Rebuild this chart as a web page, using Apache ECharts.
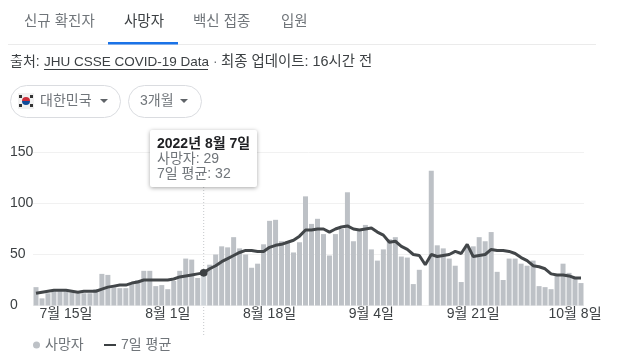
<!DOCTYPE html>
<html lang="ko">
<head>
<meta charset="utf-8" />
<title>사망자</title>
<style>
	html,body{margin:0;padding:0;background:#fff;}
	#chart{width:629px;height:357px;}
</style>
</head>
<body>
<div id="chart"></div>
<script src="https://cdn.jsdelivr.net/npm/echarts@6/dist/echarts.min.js"></script>
<script>
// 7월 10일 ~ 10월 9일, 하루 단위
var startMonth = 7, startDay = 10;
var monthDays = {7: 31, 8: 31, 9: 30, 10: 31};
var deaths = [18,7,12,14,14,14,13,12,12,12,16,31,30,18,17,17,21,25,34,34,19,20,16,24,34,46,45,27,29,40,
	50,58,57,67,56,50,37,41,60,83,84,63,63,52,62,107,80,85,70,49,70,75,111,63,73,79,55,44,55,65,
	67,48,47,21,35,0,132,59,56,46,39,23,57,58,67,63,72,33,25,46,46,41,39,44,19,18,16,30,41,32,27,22];
var average = [12,13,14,15,15,15,14,13,14,14,14,16,18,19,20,20,22,23,25,25,25,25,25,26,28,29,30,31,32,36,
	39,43,46,49,52,54,54,53,53,57,59,60,62,64,68,74,74,75,75,72,75,77,78,75,74,75,76,72,69,62,
	63,58,55,50,49,40,50,48,49,50,53,51,60,48,49,50,55,54,54,53,51,47,44,39,38,36,31,30,30,29,27,27];
var yTicks = [0, 50, 100, 150];
var tabs = ['신규 확진자', '사망자', '백신 접종', '입원'];
var hoverIndex = 28;

var days = [];
(function(){
	var m = startMonth, d = startDay;
	for (var i = 0; i < deaths.length; i++) {
		days.push(m + '월 ' + d + '일');
		d++;
		if (d > monthDays[m]) { d = 1; m++; }
	}
})();

var ink = '#3c4043', soft = '#70757a', bar = '#bdc1c6', line = '#dadce0';
var font = '"Liberation Sans", "Noto Sans CJK KR", sans-serif';

function label(x, y, text, color, size){
	return {type: 'text', x: x, y: y, silent: true, style: {
		text: text, fill: color, font: (size || 14) + 'px ' + font, textVerticalAlign: 'middle'
	}};
}
function chip(x, w){
	return {type: 'rect', shape: {x: x + 0.5, y: 85.5, width: w, height: 32, r: 16}, style: {fill: '#fff', stroke: line, lineWidth: 1}};
}
function caret(x){
	return {type: 'polygon', shape: {points: [[x - 4, 99], [x + 4, 99], [x, 103]]}, style: {fill: '#5f6368'}};
}

var myChart = echarts.init(document.getElementById('chart'));
var header = [
	label(24, 22, tabs[0], soft, 14.5),
	label(124, 22, tabs[1], ink, 14.5),
	label(193, 22, tabs[2], soft, 14.5),
	label(281, 22, tabs[3], soft, 14.5),
	{type: 'line', shape: {x1: 8, y1: 44.5, x2: 596, y2: 44.5}, style: {stroke: '#ebebeb', lineWidth: 1}},
	{type: 'rect', shape: {x: 108, y: 42, width: 70, height: 2.5}, style: {fill: '#1a73e8'}},
	label(10, 62, '출처:', ink),
	label(44, 62, 'JHU CSSE COVID-19 Data', ink, 13.5),
	{type: 'line', shape: {x1: 44, y1: 69.5, x2: 208, y2: 69.5}, style: {stroke: ink, lineWidth: 1}},
	label(213, 62, '·', soft),
	label(221, 62, '최종 업데이트: 16시간 전', ink, 14.4),
	chip(10, 110),
	chip(128, 73),
	// 태극기
	{type: 'rect', shape: {x: 18, y: 93, width: 16, height: 16}, style: {fill: '#f1f1f1'}},
	{type: 'sector', shape: {cx: 26, cy: 101, r: 4, startAngle: Math.PI, endAngle: Math.PI * 2}, style: {fill: '#cd2e3a'}},
	{type: 'sector', shape: {cx: 26, cy: 101, r: 4, startAngle: 0, endAngle: Math.PI}, style: {fill: '#0f4c9a'}},
	{type: 'rect', shape: {x: 19, y: 95, width: 3, height: 3}, style: {fill: '#333'}},
	{type: 'rect', shape: {x: 30, y: 95, width: 3, height: 3}, style: {fill: '#333'}},
	{type: 'rect', shape: {x: 19, y: 104, width: 3, height: 3}, style: {fill: '#333'}},
	{type: 'rect', shape: {x: 30, y: 104, width: 3, height: 3}, style: {fill: '#333'}},
	label(40, 101, '대한민국', soft),
	caret(104),
	label(140, 101, '3개월', soft),
	caret(184)
];

myChart.setOption({
	animation: false,
	textStyle: {fontFamily: font},
	grid: {left: 33, right: 45, top: 152.5, height: 153},
	legend: [{
		data: [{name: '사망자', icon: 'circle'}],
		left: 33, top: 338, itemWidth: 7, itemHeight: 7, itemGap: 7, padding: 0,
		textStyle: {color: soft, fontSize: 14, fontFamily: font}
	}, {
		data: [{name: '7일 평균', icon: 'rect'}],
		left: 104, top: 338, itemWidth: 12, itemHeight: 2, itemGap: 3, padding: 0,
		textStyle: {color: soft, fontSize: 14, fontFamily: font}
	}],
	tooltip: {
		trigger: 'axis',
		alwaysShowContent: true,
		showDelay: 0,
		transitionDuration: 0,
		axisPointer: {type: 'none'},
		position: [150, 130],
		padding: [6, 7],
		borderWidth: 0,
		backgroundColor: '#fff',
		extraCssText: 'width:93px;box-shadow:0 1px 4px rgba(0,0,0,.35);border-radius:2px;line-height:15px;',
		textStyle: {color: soft, fontSize: 14, fontFamily: font},
		formatter: function(){
			return '<div style="color:#202124;font-weight:bold;white-space:nowrap">2022년 ' + days[hoverIndex] + '</div>' +
				'<div>사망자: ' + deaths[hoverIndex] + '</div>' +
				'<div style="white-space:nowrap">7일 평균: ' + average[hoverIndex] + '</div>';
		}
	},
	xAxis: {
		type: 'category',
		data: days,
		axisLine: {show: false},
		axisTick: {show: false},
		axisLabel: {
			color: ink, fontSize: 14, fontFamily: font, margin: 2,
			interval: function(i){ return i % 17 === 5; }
		}
	},
	yAxis: {
		type: 'value',
		min: yTicks[0],
		max: yTicks[yTicks.length - 1],
		interval: 50,
		axisLabel: {color: ink, fontSize: 14, fontFamily: font, align: 'left', margin: 23},
		splitLine: {lineStyle: {color: '#f1f1f1', width: 1}}
	},
	series: [{
		name: '사망자',
		type: 'bar',
		data: deaths,
		barWidth: 5,
		itemStyle: {color: bar}
	}, {
		name: '7일 평균',
		type: 'line',
		data: average.map(function(v, i){
			return i === hoverIndex ? {value: v, symbol: 'circle', symbolSize: 7} : v;
		}),
		symbol: 'none',
		showSymbol: true,
		lineStyle: {color: ink, width: 3},
		itemStyle: {color: ink},
		z: 5
	}]
});

// 호버 세로 점선은 차트 영역 아래까지 내려간다
var hoverX = myChart.convertToPixel({xAxisIndex: 0}, hoverIndex);
myChart.setOption({
	graphic: header.concat([{
		type: 'line', z: 1,
		shape: {x1: hoverX, y1: 187, x2: hoverX, y2: 335},
		style: {stroke: '#c4c7ca', lineWidth: 1, lineDash: [1, 2]}
	}])
});
myChart.dispatchAction({type: 'showTip', seriesIndex: 0, dataIndex: hoverIndex});
</script>
</body>
</html>
